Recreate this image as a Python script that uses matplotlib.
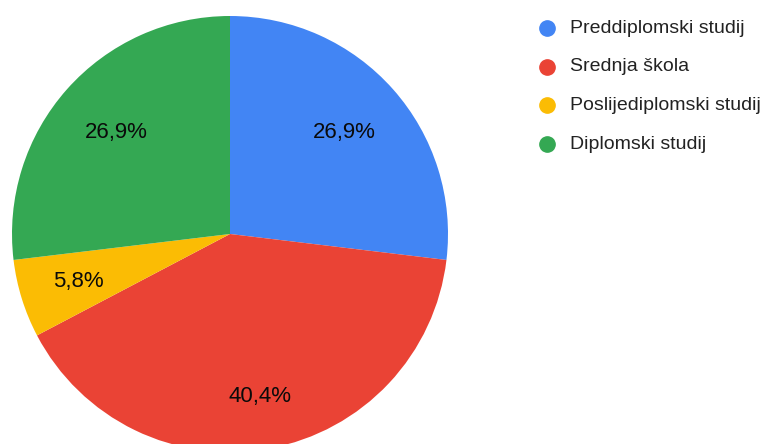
import numpy as np
import matplotlib.pyplot as plt

plt.rcParams['font.family'] = ['Liberation Sans', 'DejaVu Sans']

labels = ['Preddiplomski studij', 'Srednja škola', 'Poslijediplomski studij', 'Diplomski studij']
shares = [26.9, 40.4, 5.8, 26.9]
pct_text = ['26,9%', '40,4%', '5,8%', '26,9%']
colors = ['#4285F4', '#EA4335', '#FBBC04', '#34A853']

W, H = 778, 444
fig = plt.figure(figsize=(W / 100, H / 100), dpi=100)
ax = fig.add_axes([0, 0, 1, 1])

# pie centre / radius in pixel units
cx, cy, r = 230, H - 234, 218
wedges, _ = ax.pie(shares, colors=colors, startangle=90, counterclock=False,
                   center=(cx, cy), radius=r, frame=True,
                   wedgeprops=dict(linewidth=0))
ax.set_xlim(0, W)
ax.set_ylim(0, H)
ax.axis('off')

dists = [0.70, 0.76, 0.73, 0.70]
for w, txt, d in zip(wedges, pct_text, dists):
    ang = np.deg2rad((w.theta1 + w.theta2) / 2)
    ax.text(cx + d * r * np.cos(ang), cy + d * r * np.sin(ang), txt,
            ha='center', va='center', fontsize=16, color='#0a0a0a')

# legend
for i, (lab, col) in enumerate(zip(labels, colors)):
    y = H - (28 + i * 38.7)
    ax.plot([547], [y], 'o', color=col, markersize=11, clip_on=False)
    ax.text(570, y, lab, ha='left', va='center', fontsize=14, color='#222222')

fig.savefig('out.png', dpi=100)
